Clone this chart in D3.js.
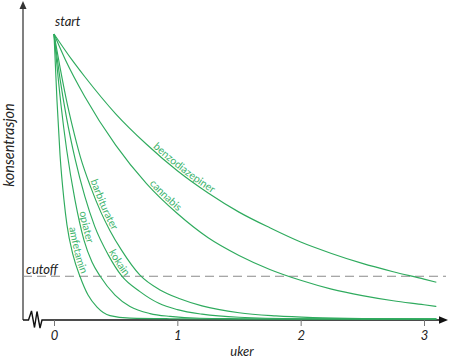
<!DOCTYPE html>
<html><head><meta charset="utf-8">
<script src="https://cdn.jsdelivr.net/npm/d3@7"></script>
<style>
html,body{margin:0;padding:0;background:#fff;}
svg{display:block;}
text{font-family:Lato,"Open Sans",sans-serif;}
</style></head><body>
<svg id="chart" width="450" height="361"></svg>
<script>
// ---- data (weeks, concentration in % of start) ----
const seriesNames = ["amfetamin","opiater","kokain","barbiturater","cannabis","benzodiazepiner"];

const amfetaminWeeks = [0, 0.024, 0.049, 0.081, 0.105, 0.154, 0.211, 0.276, 0.349, 0.454, 0.616, 0.94, 1.5, 2, 2.5, 3.1];
const amfetaminConc  = [100, 76.8, 57.5, 41.7, 33.0, 22.5, 14.9, 8.4, 4.2, 1.2, 0.3, 0.1, 0, 0, 0, 0];

const opiaterWeeks = [0, 0.057, 0.103, 0.170, 0.243, 0.308, 0.373, 0.495, 0.616, 0.779, 0.941, 1.184, 1.5, 2, 2.5, 3.1];
const opiaterConc  = [100, 75, 59.3, 41.8, 27.7, 20.0, 15.1, 8.4, 4.4, 1.9, 0.9, 0.25, 0.1, 0, 0, 0];

const kokainWeeks = [0, 0.05, 0.1, 0.173, 0.25, 0.33, 0.44, 0.549, 0.697, 0.85, 1.0, 1.2, 1.5, 2, 2.5, 3.1];
const kokainConc  = [100, 84, 71, 55.8, 43, 32.5, 22.5, 15.1, 9.6, 5.5, 3.3, 1.7, 0.6, 0.1, 0, 0];

const barbituraterWeeks = [0, 0.05, 0.1, 0.15, 0.213, 0.3, 0.38, 0.454, 0.55, 0.697, 0.86, 1.02, 1.2, 1.5, 1.8, 2.1, 2.5, 3.1];
const barbituraterConc  = [100, 88, 77, 67.5, 57, 46, 37.5, 31, 24, 15.4, 10.2, 7.1, 4.6, 2.2, 1.1, 0.5, 0.15, 0];

const cannabisWeeks = [0, 0.092, 0.25, 0.5, 0.75, 1, 1.25, 1.5, 1.75, 2, 2.25, 2.5, 2.75, 3, 3.1];
const cannabisConc  = [100, 91, 78, 61, 47.5, 37, 28.5, 22.3, 17.4, 13.6, 10.5, 8.2, 6.4, 5, 4.4];

const benzoWeeks = [0, 0.146, 0.25, 0.5, 0.75, 1, 1.25, 1.5, 1.75, 2, 2.25, 2.5, 2.75, 3, 3.1];
const benzoConc  = [100, 90.9, 85, 72, 61.3, 52, 44.2, 37.5, 32, 27, 23, 19.5, 16.6, 14, 12.9];

const cutoffValue = 15;
const xTicks = [0, 1, 2, 3];
const xTickLabels = ["0", "1", "2", "3"];

// ---- layout ----
const green = "#2fab5e";
const labelGreen = "#3db46c";
const svg = d3.select("#chart");
const x = d3.scaleLinear().domain([0, 3]).range([54, 424]);
const y = d3.scaleLinear().domain([0, 100]).range([319, 34]);

const seriesData = {
  amfetamin: [amfetaminWeeks, amfetaminConc],
  opiater: [opiaterWeeks, opiaterConc],
  kokain: [kokainWeeks, kokainConc],
  barbiturater: [barbituraterWeeks, barbituraterConc],
  cannabis: [cannabisWeeks, cannabisConc],
  benzodiazepiner: [benzoWeeks, benzoConc]
};
// where along the curve (in weeks) each label starts
const labelStart = {amfetamin: 0.108, opiater: 0.19, kokain: 0.43, barbiturater: 0.28, cannabis: 0.76, benzodiazepiner: 0.79};

const axisLeft = 23, axisRight = 446, axisY = 320;

// y axis (grey line + arrow)
svg.append("line").attr("x1", axisLeft).attr("x2", axisLeft).attr("y1", axisY).attr("y2", 7)
  .attr("stroke", "#808080").attr("stroke-width", 2);
svg.append("path").attr("d", `M${axisLeft-3.5},9 L${axisLeft},1 L${axisLeft+3.5},9 Z`).attr("fill", "#333");

// x axis with break zigzag
svg.append("path")
  .attr("d", `M${axisLeft},${axisY} L28.5,${axisY} L31.5,311 L34.5,327.5 L37,311.5 L40,328 L42,${axisY} L${axisRight-6},${axisY}`)
  .attr("fill", "none").attr("stroke", "#111").attr("stroke-width", 1.4).attr("stroke-linejoin", "miter");
svg.append("path").attr("d", `M${axisRight-7},${axisY-3.8} L${axisRight+2},${axisY} L${axisRight-7},${axisY+3.8} Z`).attr("fill", "#111");

// ticks
const xAxis = d3.axisBottom(x).tickValues(xTicks).tickFormat((d, i) => xTickLabels[i]).tickSize(6).tickPadding(5);
const gx = svg.append("g").attr("transform", `translate(0,${axisY})`).call(xAxis);
gx.select(".domain").remove();
gx.selectAll(".tick line").attr("stroke", "#777");
gx.selectAll(".tick text").attr("font-size", 13).attr("font-style", "italic").attr("fill", "#222")
  .attr("font-family", "Lato, sans-serif");

// cutoff dashed line
svg.append("line").attr("x1", axisLeft).attr("x2", axisRight).attr("y1", y(cutoffValue)).attr("y2", y(cutoffValue))
  .attr("stroke", "#8a8a8a").attr("stroke-width", 1).attr("stroke-dasharray", "9,5");

// curves
const line = d3.line().x(d => x(d[0])).y(d => y(d[1])).curve(d3.curveMonotoneX);
seriesNames.forEach((name, i) => {
  const [wk, cc] = seriesData[name];
  const pts = wk.map((w, j) => [w, cc[j]]);
  const p = svg.append("path").attr("id", "curve" + i).attr("d", line(pts))
    .attr("fill", "none").attr("stroke", green).attr("stroke-width", 1.15);
  const node = p.node();
  const total = node.getTotalLength();
  const targetX = x(labelStart[name]);
  let lo = 0, hi = total;
  for (let k = 0; k < 40; k++) {
    const mid = (lo + hi) / 2;
    if (node.getPointAtLength(mid).x < targetX) lo = mid; else hi = mid;
  }
  svg.append("text").attr("font-size", 10.5).attr("fill", labelGreen).attr("dy", -2)
    .append("textPath").attr("href", "#curve" + i).attr("startOffset", lo)
    .text(name);
});

// texts
svg.append("text").attr("x", 55).attr("y", 26).attr("font-size", 13).attr("font-style", "italic").attr("fill", "#222").text("start");
svg.append("text").attr("x", 26).attr("y", 273.5).attr("font-size", 13).attr("font-style", "italic").attr("fill", "#222").text("cutoff");
svg.append("text").attr("x", 242).attr("y", 356).attr("text-anchor", "middle").attr("font-size", 13).attr("font-style", "italic").attr("fill", "#222").text("uker");
svg.append("text").attr("transform", "translate(14,145) rotate(-90)").attr("text-anchor", "middle")
  .attr("font-size", 14.5).attr("font-style", "italic").attr("fill", "#222").text("konsentrasjon");
</script>
</body></html>
